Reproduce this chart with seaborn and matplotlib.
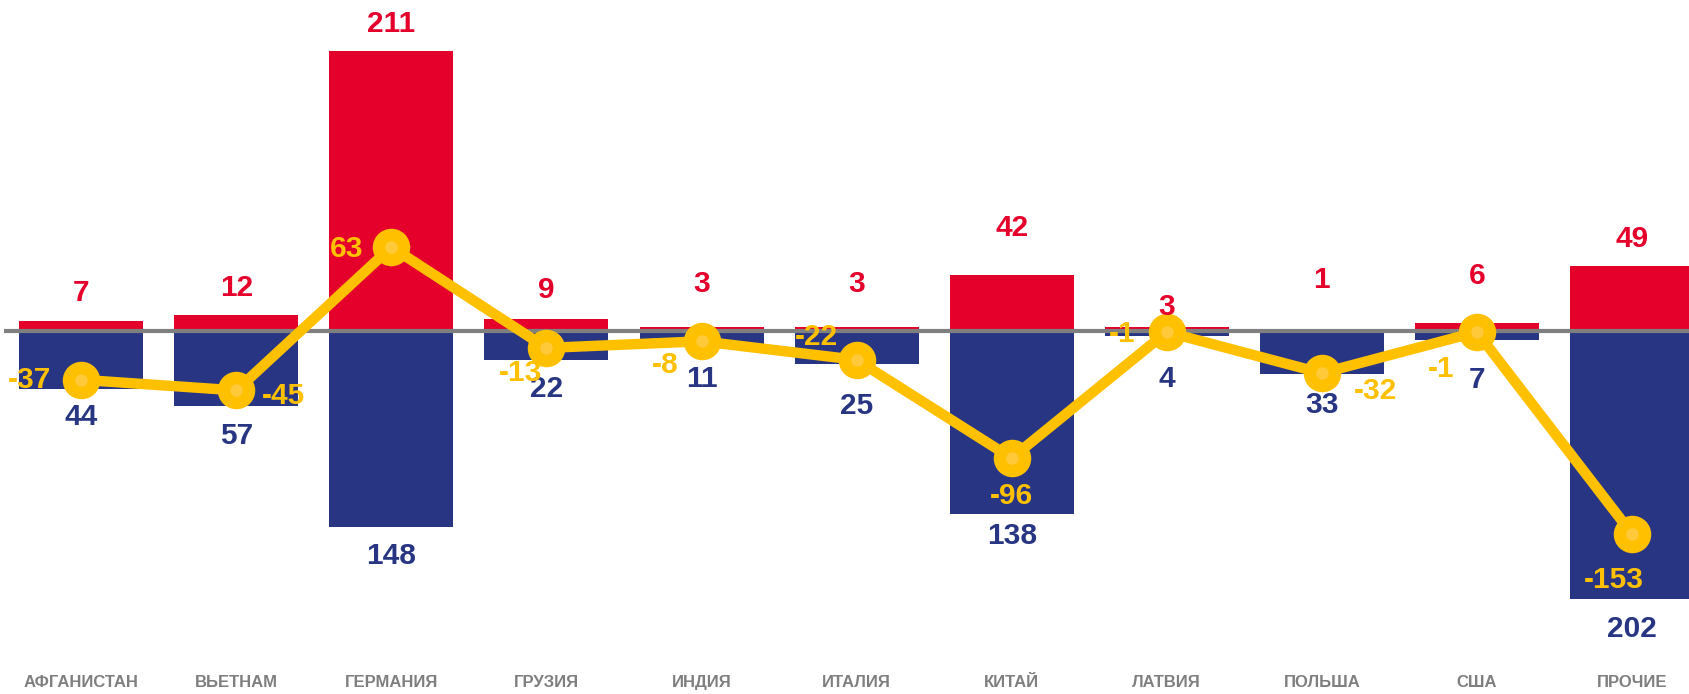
import numpy as np
import pandas as pd
import matplotlib
matplotlib.use("Agg")
import matplotlib.pyplot as plt
import seaborn as sns

# Данные
COUNTRIES = ["АФГАНИСТАН", "ВЬЕТНАМ", "ГЕРМАНИЯ", "ГРУЗИЯ", "ИНДИЯ", "ИТАЛИЯ",
             "КИТАЙ", "ЛАТВИЯ", "ПОЛЬША", "США", "ПРОЧИЕ"]
EXPORT = [7, 12, 211, 9, 3, 3, 42, 3, 1, 6, 49]
IMPORT = [44, 57, 148, 22, 11, 25, 138, 4, 33, 7, 202]
BALANCE = [-37, -45, 63, -13, -8, -22, -96, -1, -32, -1, -153]

# Смещения подписей (пиксели)
EXP_DY = [28, 27, 27, 29, 43, 43, 47, 20, 49, 47, 27]
IMP_DY = [28, 30, 29, 29, 34, 42, 22, 43, 31, 40, 30]
BAL_OFF = [(-52, 0), (47, -6), (-45, -2), (-26, -25), (-36, -24), (-40, 23),
           (0, -38), (-45, -2), (54, -18), (-36, -37), (-18, -46)]

RED = "#E4002B"
BLUE = "#283583"
YELLOW = "#FFC000"
YELLOW_LIGHT = "#FFC93A"
GREY = "#7F7F7F"

sns.set_theme(style="white")
plt.rcParams["font.family"] = ["Liberation Sans", "DejaVu Sans"]

df = pd.DataFrame({"country": COUNTRIES, "export": EXPORT,
                   "import_neg": [-v for v in IMPORT], "balance": BALANCE})

fig = plt.figure(figsize=(16.89, 6.94), dpi=100)
ax = fig.add_axes([0, 0, 1, 1])

sns.barplot(data=df, x="country", y="export", color=RED, saturation=1,
            width=0.8, linewidth=0, ax=ax, zorder=2)
sns.barplot(data=df, x="country", y="import_neg", color=BLUE, saturation=1,
            width=0.8, linewidth=0, ax=ax, zorder=2)

x_right = 10.368
ax.hlines(0, -0.5, x_right, color=GREY, linewidth=3, zorder=3)

xs = np.arange(len(COUNTRIES))
sns.lineplot(x=xs, y=BALANCE, color=YELLOW, linewidth=7.5, marker="o",
             markersize=27, markeredgewidth=0, ax=ax, zorder=4)
ax.plot(xs, BALANCE, linestyle="none", marker="o", markersize=9,
        color=YELLOW_LIGHT, markeredgewidth=0, zorder=5)

for i in range(len(COUNTRIES)):
    ax.annotate(str(EXPORT[i]), (xs[i], EXPORT[i]), xytext=(0, EXP_DY[i]),
                textcoords="offset pixels", ha="center", va="center",
                fontsize=21.5, fontweight="bold", color=RED, zorder=6)
    ax.annotate(str(IMPORT[i]), (xs[i], -IMPORT[i]), xytext=(0, -IMP_DY[i]),
                textcoords="offset pixels", ha="center", va="center",
                fontsize=21.5, fontweight="bold", color=BLUE, zorder=6)
    ax.annotate(str(BALANCE[i]), (xs[i], BALANCE[i]), xytext=BAL_OFF[i],
                textcoords="offset pixels", ha="center", va="center",
                fontsize=21.5, fontweight="bold", color=YELLOW, zorder=6)
    ax.text(xs[i], -265.4, COUNTRIES[i], ha="center", va="center",
            fontsize=12, fontweight="bold", color=GREY)

ax.set_xlim(-0.524, x_right)
ax.set_ylim(-273.7, 249.1)
ax.set_axis_off()

plt.savefig("out.png", dpi=100)
plt.close()
